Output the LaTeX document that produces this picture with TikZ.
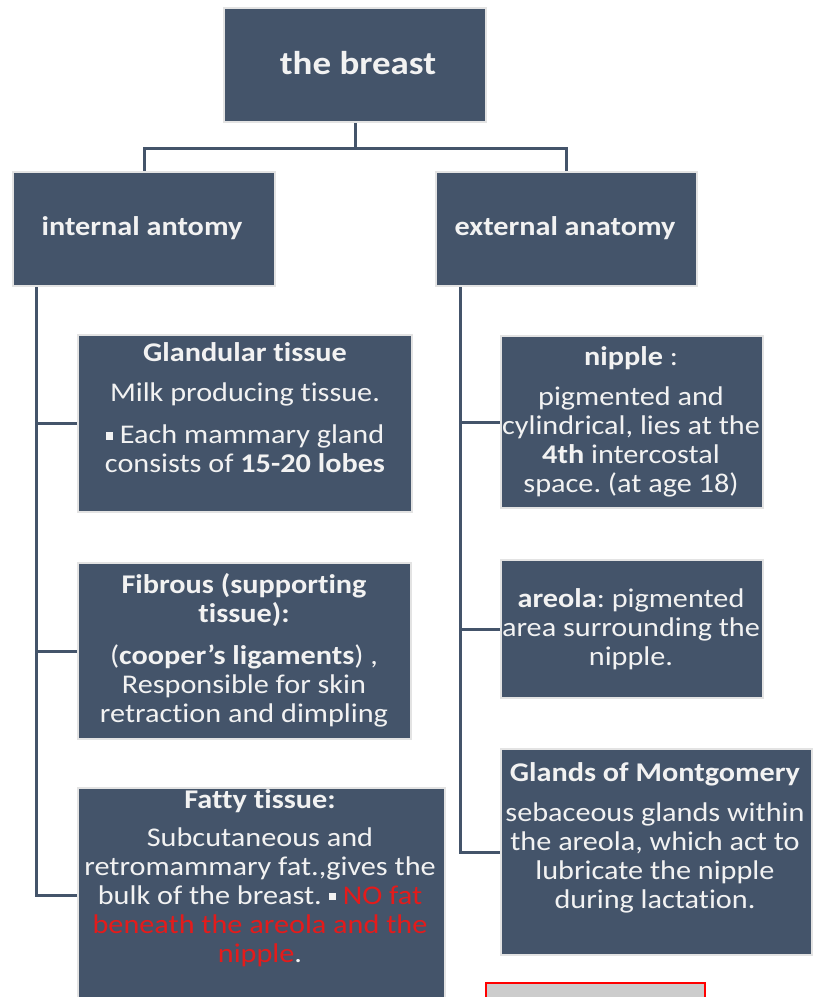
\documentclass[tikz,border=0pt]{standalone}
\usepackage{fontspec}
\setmainfont{Carlito}[FakeStretch=1.12, Ligatures={NoCommon,NoContextual}, Contextuals={NoAlternate}]
\usetikzlibrary{positioning}

\definecolor{slate}{HTML}{44546A}
\definecolor{paletext}{HTML}{F2F2F2}
\definecolor{alertred}{HTML}{E41B1B}
\newcommand{\sqbullet}{\raisebox{0.16em}{\rule{0.27em}{0.27em}}}
\frenchspacing

\begin{document}
\begin{tikzpicture}[x=1pt,y=-1pt,
    card/.style={draw=gray!22, line width=2pt, fill=slate, inner sep=0pt},
    cardtext/.style={text=paletext, align=center, inner sep=0pt, font=\fontsize{27}{29}\selectfont},
    branch/.style={draw=slate, line width=3pt}]

        % Fix the page size
        \clip (0,0) rectangle (817,997);
        \fill[white] (0,0) rectangle (817,997);

        % Draw the boxes
        \node[card, minimum width=262pt, minimum height=114pt] (breast) at (355,65) {};
        \node[card, minimum width=262pt, minimum height=114pt] (internal) at (144,229) {};
        \node[card, minimum width=261pt, minimum height=114pt] (external) at (566.5,229) {};
        \node[card, minimum width=334pt, minimum height=177pt] (gland) at (245,423.5) {};
        \node[card, minimum width=333pt, minimum height=176pt] (fibrous) at (244.5,651) {};
        \node[card, minimum width=367pt, minimum height=214pt] (fatty) at (261.5,895) {};
        \node[card, minimum width=262pt, minimum height=172pt] (nipple) at (632,422) {};
        \node[card, minimum width=262pt, minimum height=138pt] (areola) at (632,629) {};
        \node[card, minimum width=311pt, minimum height=206pt] (glands) at (656.5,852) {};
        \node[draw=red, line width=1.5pt, fill=gray!40, minimum width=219pt, minimum height=36pt] (stub) at (595.5,1001) {};

        % Draw the connectors
        \draw[branch] (breast.south) -- ++(0,25) coordinate (fork);
        \draw[branch] (fork) -| (internal.north);
        \draw[branch] (fork) -| (external.north);
        \coordinate (lefttrunk) at ([xshift=24pt]internal.south west);
        \coordinate (righttrunk) at ([xshift=25pt]external.south west);
        \foreach \leaf in {gland,fibrous,fatty}
        {
          \draw[branch] (lefttrunk) |- (\leaf.west);
        }
        \foreach \leaf in {nipple,areola,glands}
        {
          \draw[branch] (righttrunk) |- (\leaf.west);
        }

        % Add the texts
        \node[cardtext, font=\fontsize{33}{36}\selectfont\bfseries] (breast-t) at (358,63) {the breast};
        \node[cardtext, font=\fontsize{27}{29}\selectfont\bfseries] (internal-t) at (142,228) {internal antomy};
        \node[cardtext, font=\fontsize{27}{29}\selectfont\bfseries] (external-t) at (565,228) {external anatomy};
        \node[cardtext] (gland-t) at (245,408) {\textbf{Glandular tissue}\\[11pt]
          Milk producing tissue.\\[13pt]
          \sqbullet{} Each mammary gland\\
          consists of \textbf{15-20 lobes}};
        \node[cardtext] (fibrous-t) at (244,650) {\textbf{Fibrous (supporting}\\
          \textbf{tissue):}\\[13pt]
          (\textbf{cooper’s ligaments}) ,\\
          Responsible for skin\\
          retraction and dimpling};
        \node[cardtext] (fatty-t) at (260,878.5) {\textbf{Fatty tissue:}\\[9pt]
          Subcutaneous and\\
          retromammary fat.,gives the\\
          bulk of the breast. \sqbullet{} \textcolor{alertred}{NO fat}\\
          \textcolor{alertred}{beneath the areola and the}\\
          \textcolor{alertred}{nipple}.};
        \node[cardtext] (nipple-t) at (631,421.5) {\textbf{nipple} :\\[11pt]
          pigmented and\\
          cylindrical, lies at the\\
          \textbf{4th} intercostal\\
          space. (at age 18)};
        \node[cardtext] (areola-t) at (631,629) {\textbf{areola}: pigmented\\
          area surrounding the\\
          nipple.};
        \node[cardtext] (glands-t) at (655,837.5) {\textbf{Glands of Montgomery}\\[11pt]
          sebaceous glands within\\
          the areola, which act to\\
          lubricate the nipple\\
          during lactation.};
\end{tikzpicture}
\end{document}
